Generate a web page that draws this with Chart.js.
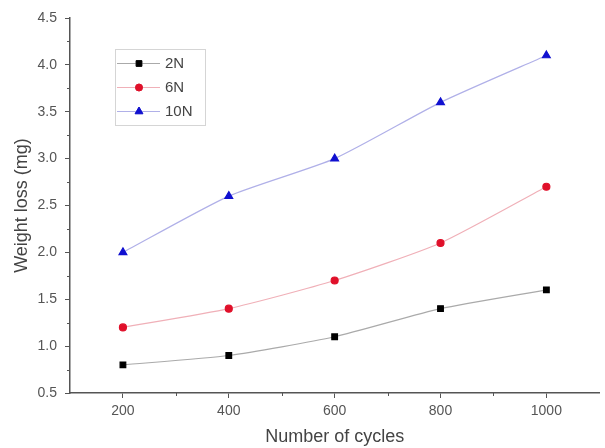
<!DOCTYPE html>
<html>
<head>
<meta charset="utf-8">
<script src="https://cdn.jsdelivr.net/npm/chart.js@4.4.1/dist/chart.umd.min.js"></script>
<style>
  body { margin: 0; background: #fff; }
  #wrap { width: 605px; height: 448px; }
</style>
</head>
<body>
<div id="wrap"><canvas id="chart" width="605" height="448"></canvas></div>
<script>
// 数据
const cycles = [200, 400, 600, 800, 1000];
const loss2N = [0.8, 0.9, 1.1, 1.4, 1.6];
const loss6N = [1.2, 1.4, 1.7, 2.1, 2.7];
const loss10N = [2.0, 2.6, 3.0, 3.6, 4.1];
const seriesNames = ['2N', '6N', '10N'];
const xTicks = [200, 400, 600, 800, 1000];
const xMinorTicks = [300, 500, 700, 900];
const yTicks = [0.5, 1.0, 1.5, 2.0, 2.5, 3.0, 3.5, 4.0, 4.5];
const yMinorTicks = [0.75, 1.25, 1.75, 2.25, 2.75, 3.25, 3.75, 4.25];

const axisColor = '#555';
const labelColor = '#555';
const fontFamily = '"Liberation Sans", Arial, sans-serif';

function toPoints(vals) {
    return cycles.map((c, i) => ({ x: c, y: vals[i] }));
}

// 次刻度
const minorTicks = {
    id: 'minorTicks',
    afterDraw(chart) {
        const ctx = chart.ctx;
        const xs = chart.scales.x, ys = chart.scales.y;
        ctx.save();
        ctx.strokeStyle = axisColor;
        ctx.lineWidth = 1;
        xMinorTicks.forEach(v => {
            const px = Math.round(xs.getPixelForValue(v)) + 0.5;
            ctx.beginPath();
            ctx.moveTo(px, ys.bottom);
            ctx.lineTo(px, ys.bottom + 3);
            ctx.stroke();
        });
        yMinorTicks.forEach(v => {
            const py = Math.round(ys.getPixelForValue(v)) + 0.5;
            ctx.beginPath();
            ctx.moveTo(xs.left, py);
            ctx.lineTo(xs.left - 3, py);
            ctx.stroke();
        });
        ctx.restore();
    }
};

// 图内图例
const boxLegend = {
    id: 'boxLegend',
    afterDraw(chart) {
        const ctx = chart.ctx;
        const left = 115, top = 49, w = 90, h = 76;
        ctx.save();
        ctx.strokeStyle = '#aaa';
        ctx.lineWidth = 1;
        ctx.setLineDash([1, 1]);
        ctx.strokeRect(left + 0.5, top + 0.5, w, h);
        ctx.setLineDash([]);
        chart.data.datasets.forEach((ds, i) => {
            const y = top + 14 + i * 24;
            ctx.strokeStyle = ds.borderColor;
            ctx.lineWidth = 1;
            ctx.beginPath();
            ctx.moveTo(left + 2, y + 0.5);
            ctx.lineTo(left + 45, y + 0.5);
            ctx.stroke();
            Chart.helpers.drawPoint(ctx, {
                pointStyle: ds.pointStyle,
                radius: ds.pointRadius,
                rotation: 0,
                borderWidth: 1
            }, left + 24, y + 0.5);
            ctx.fillStyle = ds.pointBackgroundColor;
            ctx.strokeStyle = ds.pointBorderColor;
            ctx.fill();
            ctx.stroke();
            ctx.fillStyle = '#444';
            ctx.font = '15px ' + fontFamily;
            ctx.textBaseline = 'middle';
            ctx.fillText(ds.label, left + 50, y + 1);
        });
        ctx.restore();
    }
};

new Chart(document.getElementById('chart'), {
    type: 'line',
    data: {
        datasets: [
            {
                label: seriesNames[0],
                data: toPoints(loss2N),
                borderColor: '#aaaaaa',
                borderWidth: 1.2,
                pointStyle: 'rect',
                pointRadius: 4,
                pointBackgroundColor: '#000',
                pointBorderColor: '#000',
                tension: 0.2
            },
            {
                label: seriesNames[1],
                data: toPoints(loss6N),
                borderColor: '#f0b0b8',
                borderWidth: 1.2,
                pointStyle: 'circle',
                pointRadius: 3.5,
                pointBackgroundColor: '#e0102a',
                pointBorderColor: '#e0102a',
                tension: 0.2
            },
            {
                label: seriesNames[2],
                data: toPoints(loss10N),
                borderColor: '#b0b0e8',
                borderWidth: 1.2,
                pointStyle: 'triangle',
                pointRadius: 4.5,
                pointBackgroundColor: '#1010d0',
                pointBorderColor: '#1010d0',
                tension: 0.2
            }
        ]
    },
    options: {
        responsive: false,
        animation: false,
        events: [],
        layout: { padding: { top: 18, right: 2, left: 11, bottom: 0 } },
        plugins: {
            legend: { display: false },
            tooltip: { enabled: false }
        },
        scales: {
            x: {
                type: 'linear',
                min: 100,
                max: 1100,
                afterBuildTicks: s => { s.ticks = xTicks.map(v => ({ value: v })); },
                afterFit: s => { s.height = 55; },
                grid: { drawOnChartArea: false, drawTicks: true, tickLength: 5, color: axisColor },
                border: { display: true, color: axisColor, width: 1.5 },
                ticks: {
                    color: labelColor,
                    padding: 5,
                    maxRotation: 0,
                    callback: v => String(v),
                    font: { family: fontFamily, size: 14 }
                },
                title: {
                    display: true,
                    text: 'Number of cycles',
                    color: '#444',
                    padding: { top: 2, bottom: 0 },
                    font: { family: fontFamily, size: 18 }
                }
            },
            y: {
                type: 'linear',
                min: 0.5,
                max: 4.5,
                afterBuildTicks: s => { s.ticks = yTicks.map(v => ({ value: v })); },
                afterFit: s => { s.width = 59; },
                grid: { drawOnChartArea: false, drawTicks: true, tickLength: 5, color: axisColor },
                border: { display: true, color: axisColor, width: 1.5 },
                ticks: {
                    color: labelColor,
                    padding: 8,
                    callback: v => v.toFixed(1),
                    font: { family: fontFamily, size: 14 }
                },
                title: {
                    display: true,
                    text: 'Weight loss (mg)',
                    color: '#444',
                    padding: { top: 0, bottom: 0 },
                    font: { family: fontFamily, size: 18 }
                }
            }
        }
    },
    plugins: [minorTicks, boxLegend]
});
</script>
</body>
</html>
